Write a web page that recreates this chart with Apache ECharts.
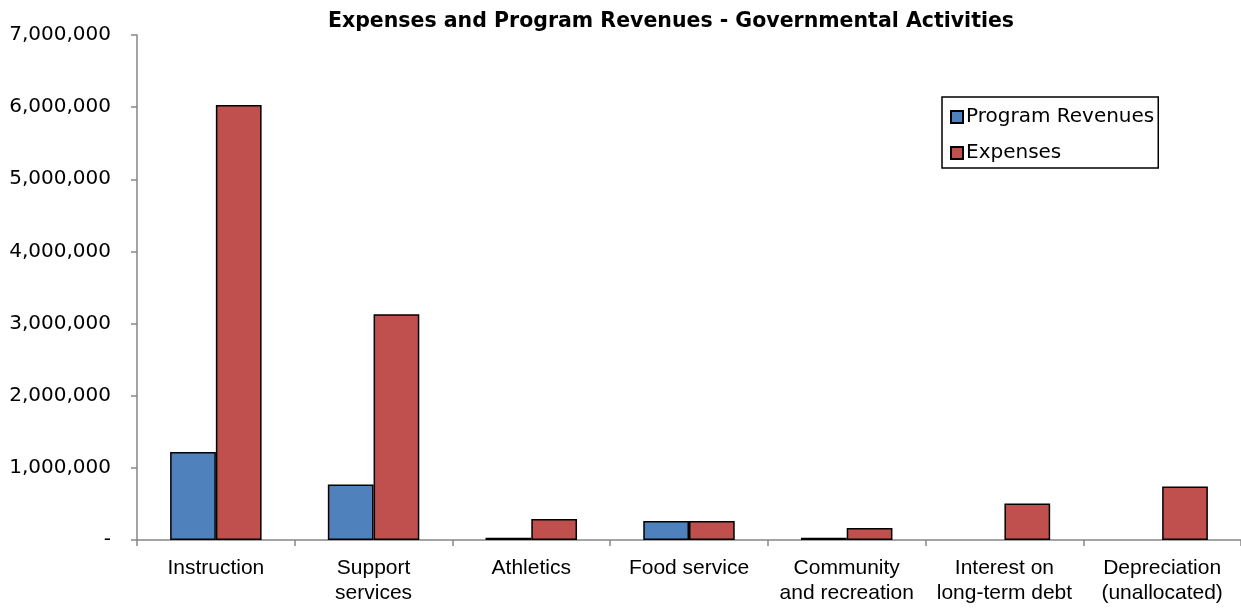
<!DOCTYPE html>
<html><head><meta charset="utf-8">
<script src="https://cdn.jsdelivr.net/npm/echarts@6/dist/echarts.min.js"></script>
<style>html,body{margin:0;padding:0;background:#fff}#c{width:1241px;height:608px}</style>
</head><body><div id="c"></div>
<script>
const categories = ["Instruction","Support\nservices","Athletics","Food service","Community\nand recreation","Interest on\nlong-term debt","Depreciation\n(unallocated)"];
const programRevenues = [1220000, 770000, 30000, 262000, 30000, 0, 0];
const expenses = [6030000, 3130000, 290000, 265000, 167000, 507000, 740000];
const seriesNames = ["Program Revenues","Expenses"];

const chart = echarts.init(document.getElementById('c'));
const axisGray = '#868686';
const noZero = arr => arr.map(v => v === 0 ? null : v);
chart.setOption({
  animation: false,
  title: {
    text: 'Expenses and Program Revenues - Governmental Activities',
    left: 666, top: 6, textAlign: 'center',
    textStyle: {fontFamily: 'DejaVu Sans', fontWeight: 'bold', fontSize: 20.5, color: '#000'}
  },
  legend: {
    data: seriesNames,
    orient: 'vertical',
    left: 942, top: 97,
    itemWidth: 12, itemHeight: 12, itemGap: 16,
    padding: [10, 4, 5, 8],
    borderColor: '#000', borderWidth: 1.5,
    textStyle: {fontFamily: 'DejaVu Sans', fontSize: 20, color: '#000', padding: [0,0,0,-2]},
    icon: 'rect'
  },
  grid: {left: 137, right: -2, top: 35, bottom: 68, containLabel: false},
  xAxis: {
    type: 'category', data: categories,
    axisLine: {lineStyle: {color: axisGray, width: 1.5}},
    axisTick: {show: true, length: 6, lineStyle: {color: axisGray, width: 1.5}},
    axisLabel: {fontFamily: 'Liberation Sans', fontSize: 21, color: '#000', lineHeight: 25, margin: 16, interval: 0}
  },
  yAxis: {
    type: 'value', min: 0, max: 7000000, interval: 1000000,
    axisLine: {show: true, lineStyle: {color: axisGray, width: 1.5}},
    axisTick: {show: true, length: 6, lineStyle: {color: axisGray, width: 1.5}},
    splitLine: {show: false},
    axisLabel: {
      fontFamily: 'DejaVu Sans', fontSize: 20, color: '#000', margin: 26,
      formatter: v => v === 0 ? '-' : v.toLocaleString('en-US')
    }
  },
  series: [
    {name: seriesNames[0], type: 'bar', data: noZero(programRevenues), barGap: '0%', barCategoryGap: '42%',
     itemStyle: {color: '#4f81bd', borderColor: '#000', borderWidth: 1.5}},
    {name: seriesNames[1], type: 'bar', data: noZero(expenses), barGap: '0%', barCategoryGap: '42%',
     itemStyle: {color: '#c0504d', borderColor: '#000', borderWidth: 1.5}}
  ]
});
</script></body></html>
